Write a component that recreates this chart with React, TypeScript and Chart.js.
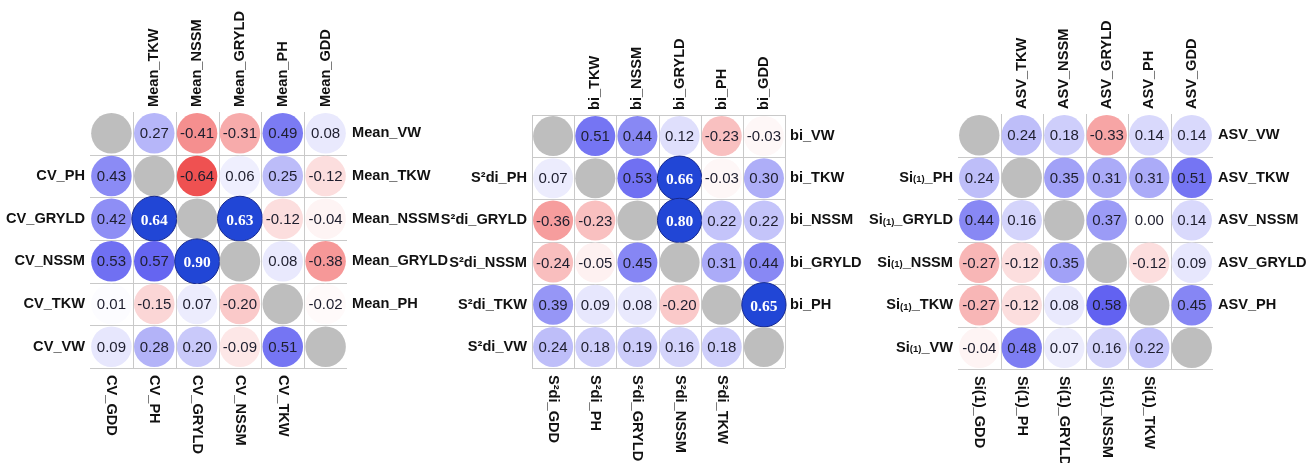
import React, { useEffect, useRef } from "react";
import { Chart, registerables } from "chart.js";
Chart.register(...registerables);

const W = 1306;
const H = 463;

// ---------- Panel 1: CV (lower) vs Mean (upper) ----------
const p1Left = ["", "CV_PH", "CV_GRYLD", "CV_NSSM", "CV_TKW", "CV_VW"];
const p1Bottom = ["CV_GDD", "CV_PH", "CV_GRYLD", "CV_NSSM", "CV_TKW", ""];
const p1Top = ["", "Mean_TKW", "Mean_NSSM", "Mean_GRYLD", "Mean_PH", "Mean_GDD"];
const p1Right = ["Mean_VW", "Mean_TKW", "Mean_NSSM", "Mean_GRYLD", "Mean_PH", ""];
const p1Values: (number | null)[][] = [
  [null, 0.27, -0.41, -0.31, 0.49, 0.08],
  [0.43, null, -0.64, 0.06, 0.25, -0.12],
  [0.42, 0.64, null, 0.63, -0.12, -0.04],
  [0.53, 0.57, 0.9, null, 0.08, -0.38],
  [0.01, -0.15, 0.07, -0.2, null, -0.02],
  [0.09, 0.28, 0.2, -0.09, 0.51, null],
];

// ---------- Panel 2: S²di (lower) vs bi (upper) ----------
const p2Left = ["", "S²di_PH", "S²di_GRYLD", "S²di_NSSM", "S²di_TKW", "S²di_VW"];
const p2Bottom = ["S²di_GDD", "S²di_PH", "S²di_GRYLD", "S²di_NSSM", "S²di_TKW", ""];
const p2Top = ["", "bi_TKW", "bi_NSSM", "bi_GRYLD", "bi_PH", "bi_GDD"];
const p2Right = ["bi_VW", "bi_TKW", "bi_NSSM", "bi_GRYLD", "bi_PH", ""];
const p2Values: (number | null)[][] = [
  [null, 0.51, 0.44, 0.12, -0.23, -0.03],
  [0.07, null, 0.53, 0.66, -0.03, 0.3],
  [-0.36, -0.23, null, 0.8, 0.22, 0.22],
  [-0.24, -0.05, 0.45, null, 0.31, 0.44],
  [0.39, 0.09, 0.08, -0.2, null, 0.65],
  [0.24, 0.18, 0.19, 0.16, 0.18, null],
];

// ---------- Panel 3: Si(1) (lower) vs ASV (upper) ----------
const p3Left = ["", "Si[(1)]_PH", "Si[(1)]_GRYLD", "Si[(1)]_NSSM", "Si[(1)]_TKW", "Si[(1)]_VW"];
const p3Bottom = ["Si(1)_GDD", "Si(1)_PH", "Si(1)_GRYLD", "Si(1)_NSSM", "Si(1)_TKW", ""];
const p3Top = ["", "ASV_TKW", "ASV_NSSM", "ASV_GRYLD", "ASV_PH", "ASV_GDD"];
const p3Right = ["ASV_VW", "ASV_TKW", "ASV_NSSM", "ASV_GRYLD", "ASV_PH", ""];
const p3Values: (number | null)[][] = [
  [null, 0.24, 0.18, -0.33, 0.14, 0.14],
  [0.24, null, 0.35, 0.31, 0.31, 0.51],
  [0.44, 0.16, null, 0.37, 0.0, 0.14],
  [-0.27, -0.12, 0.35, null, -0.12, 0.09],
  [-0.27, -0.12, 0.08, 0.58, null, 0.45],
  [-0.04, 0.48, 0.07, 0.16, 0.22, null],
];

type PanelCfg = {
  values: (number | null)[][];
  left: string[];
  right: string[];
  top: string[];
  bottom: string[];
  box: { l: number; t: number; r: number; b: number };
  fullBorder: boolean;
};

const panels: PanelCfg[] = [
  { values: p1Values, left: p1Left, right: p1Right, top: p1Top, bottom: p1Bottom, box: { l: 90, t: 112, r: 347, b: 368 }, fullBorder: false },
  { values: p2Values, left: p2Left, right: p2Right, top: p2Top, bottom: p2Bottom, box: { l: 532, t: 115, r: 785, b: 368 }, fullBorder: true },
  { values: p3Values, left: p3Left, right: p3Right, top: p3Top, bottom: p3Bottom, box: { l: 958, t: 114, r: 1213, b: 369 }, fullBorder: false },
];

const LABEL_FONT = 'bold 14.6px "Liberation Sans", Arial, sans-serif';
const SMALL_FONT = 'bold 9.5px "Liberation Sans", Arial, sans-serif';
const VALUE_FONT = '15px "Liberation Sans", Arial, sans-serif';
const HI_FONT = 'bold 15.5px "Liberation Serif", "Times New Roman", serif';
const GRID_COLOR = "#c9c9c9";

function isHi(v: number | null) {
  return v !== null && v >= 0.6;
}

function cellColor(v: number | null): string {
  if (v === null) return "#bebebe";
  if (v >= 0.6) return "#2146d6";
  const a = Math.abs(v);
  if (v >= 0) {
    const c = Math.round(255 - a * 270);
    const b = Math.round(255 - a * 24);
    return `rgb(${c},${c},${b})`;
  }
  const r = Math.round(255 - a * 25);
  const c = Math.round(255 - a * 272);
  return `rgb(${r},${c},${c})`;
}

function segments(text: string) {
  const parts: { t: string; small: boolean }[] = [];
  const re = /\[([^\]]*)\]/g;
  let last = 0;
  let m: RegExpExecArray | null;
  while ((m = re.exec(text))) {
    if (m.index > last) parts.push({ t: text.slice(last, m.index), small: false });
    parts.push({ t: m[1], small: true });
    last = m.index + m[0].length;
  }
  if (last < text.length) parts.push({ t: text.slice(last), small: false });
  return parts;
}

function drawRich(ctx: CanvasRenderingContext2D, text: string, x: number, y: number, align: "left" | "right") {
  const parts = segments(text);
  const widths = parts.map((p) => {
    ctx.font = p.small ? SMALL_FONT : LABEL_FONT;
    return ctx.measureText(p.t).width;
  });
  const total = widths.reduce((s, w) => s + w, 0);
  let cx = align === "right" ? x - total : x;
  ctx.textAlign = "left";
  ctx.textBaseline = "middle";
  parts.forEach((p, i) => {
    ctx.font = p.small ? SMALL_FONT : LABEL_FONT;
    ctx.fillText(p.t, cx, p.small ? y + 2 : y);
    cx += widths[i];
  });
}

function makePlugin(cfg: PanelCfg) {
  return {
    id: "corrDecor",
    beforeDatasetsDraw(chart: any) {
      const ctx: CanvasRenderingContext2D = chart.ctx;
      const xs = chart.scales.x;
      const ys = chart.scales.y;
      const x0 = xs.getPixelForValue(0.5);
      const x1 = xs.getPixelForValue(6.5);
      const y0 = ys.getPixelForValue(0.5);
      const y1 = ys.getPixelForValue(6.5);
      ctx.save();
      ctx.strokeStyle = GRID_COLOR;
      ctx.lineWidth = 1;
      const from = cfg.fullBorder ? 0 : 1;
      for (let k = from; k <= 6; k++) {
        if (!cfg.fullBorder && k === 6) continue;
        const px = Math.round(xs.getPixelForValue(0.5 + k)) + 0.5;
        ctx.beginPath();
        ctx.moveTo(px, y0);
        ctx.lineTo(px, y1);
        ctx.stroke();
      }
      for (let k = from; k <= 6; k++) {
        const py = Math.round(ys.getPixelForValue(0.5 + k)) + 0.5;
        ctx.beginPath();
        ctx.moveTo(x0, py);
        ctx.lineTo(x1, py);
        ctx.stroke();
      }
      ctx.restore();
    },
    afterDatasetsDraw(chart: any) {
      const ctx: CanvasRenderingContext2D = chart.ctx;
      const xs = chart.scales.x;
      const ys = chart.scales.y;
      const top = ys.getPixelForValue(0.5);
      const bottom = ys.getPixelForValue(6.5);
      const left = xs.getPixelForValue(0.5);
      const right = xs.getPixelForValue(6.5);
      ctx.save();
      // values
      cfg.values.forEach((row, r) => {
        row.forEach((v, c) => {
          if (v === null) return;
          const px = xs.getPixelForValue(c + 1);
          const py = ys.getPixelForValue(r + 1);
          ctx.textAlign = "center";
          ctx.textBaseline = "middle";
          if (isHi(v)) {
            ctx.font = HI_FONT;
            ctx.fillStyle = "#ffffff";
            ctx.fillText(v.toFixed(2), px, py + 2);
          } else {
            ctx.font = VALUE_FONT;
            ctx.fillStyle = "#1e1e2e";
            ctx.fillText(v.toFixed(2), px, py + 1);
          }
        });
      });
      ctx.fillStyle = "#111111";
      // left labels
      cfg.left.forEach((t, r) => {
        if (!t) return;
        drawRich(ctx, t, left - 5, ys.getPixelForValue(r + 1), "right");
      });
      // right labels
      cfg.right.forEach((t, r) => {
        if (!t) return;
        drawRich(ctx, t, right + 5, ys.getPixelForValue(r + 1), "left");
      });
      // top labels (read bottom to top)
      cfg.top.forEach((t, c) => {
        if (!t) return;
        ctx.save();
        ctx.translate(xs.getPixelForValue(c + 1), top - 5);
        ctx.rotate(-Math.PI / 2);
        drawRich(ctx, t, 0, 0, "left");
        ctx.restore();
      });
      // bottom labels (read top to bottom)
      cfg.bottom.forEach((t, c) => {
        if (!t) return;
        ctx.save();
        ctx.translate(xs.getPixelForValue(c + 1), bottom + 7);
        ctx.rotate(Math.PI / 2);
        drawRich(ctx, t, 0, 0, "left");
        ctx.restore();
      });
      ctx.restore();
    },
  };
}

function Panel({ cfg }: { cfg: PanelCfg }) {
  const ref = useRef<HTMLCanvasElement>(null);
  useEffect(() => {
    if (!ref.current) return;
    const points: { x: number; y: number; v: number | null }[] = [];
    cfg.values.forEach((row, r) =>
      row.forEach((v, c) => points.push({ x: c + 1, y: r + 1, v }))
    );
    const cellSize = (ctx: any) => {
      const xs = ctx.chart.scales.x;
      const ys = ctx.chart.scales.y;
      const cw = Math.abs(xs.getPixelForValue(2) - xs.getPixelForValue(1));
      const ch = Math.abs(ys.getPixelForValue(2) - ys.getPixelForValue(1));
      return Math.min(cw, ch);
    };
    const radius = (ctx: any) => {
      const v = ctx.raw ? ctx.raw.v : null;
      const cell = cellSize(ctx) || 42;
      return isHi(v) ? cell * 0.525 : cell * 0.475;
    };
    const chart = new Chart(ref.current, {
      type: "scatter",
      data: {
        datasets: [
          {
            data: points as any,
            clip: false as any,
            pointStyle: "circle",
            pointRadius: radius,
            pointHoverRadius: radius,
            pointBackgroundColor: (ctx: any) => cellColor(ctx.raw ? ctx.raw.v : null),
            pointHoverBackgroundColor: (ctx: any) => cellColor(ctx.raw ? ctx.raw.v : null),
            pointBorderColor: (ctx: any) => (isHi(ctx.raw ? ctx.raw.v : null) ? "#16288f" : "rgba(0,0,0,0)"),
            pointBorderWidth: (ctx: any) => (isHi(ctx.raw ? ctx.raw.v : null) ? 1 : 0),
          } as any,
        ],
      },
      options: {
        animation: false,
        responsive: false,
        devicePixelRatio: 1,
        events: [],
        layout: {
          padding: { left: cfg.box.l, top: cfg.box.t, right: W - cfg.box.r, bottom: H - cfg.box.b },
        },
        plugins: { legend: { display: false }, tooltip: { enabled: false } },
        scales: {
          x: { type: "linear", min: 0.5, max: 6.5, display: false },
          y: { type: "linear", min: 0.5, max: 6.5, reverse: true, display: false },
        },
      },
      plugins: [makePlugin(cfg)],
    });
    return () => chart.destroy();
  }, [cfg]);
  return (
    <canvas
      ref={ref}
      width={W}
      height={H}
      style={{ position: "absolute", left: 0, top: 0, width: W, height: H }}
    />
  );
}

export default function App() {
  return (
    <div style={{ position: "absolute", left: 0, top: 0, width: W, height: H, background: "#ffffff", overflow: "hidden" }}>
      {panels.map((p, i) => (
        <Panel key={i} cfg={p} />
      ))}
    </div>
  );
}
